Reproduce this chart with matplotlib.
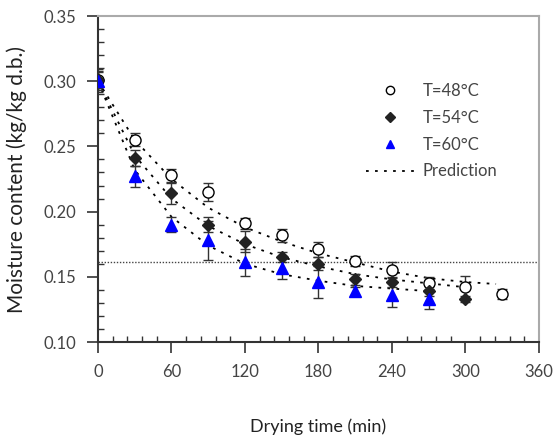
import matplotlib
matplotlib.use("Agg")
import matplotlib.pyplot as plt
from matplotlib.ticker import MultipleLocator

plt.rcParams['font.family'] = ['Lato', 'DejaVu Sans']

# measured data
t48 = [0, 30, 60, 90, 120, 150, 180, 210, 240, 270, 300, 330]
m48 = [0.301, 0.255, 0.228, 0.215, 0.191, 0.182, 0.171, 0.162, 0.155, 0.145, 0.142, 0.137]
e48 = [0.008, 0.005, 0.005, 0.007, 0.004, 0.005, 0.006, 0.004, 0.006, 0.005, 0.009, 0.004]

t54 = [0, 30, 60, 90, 120, 150, 180, 210, 240, 270, 300]
m54 = [0.301, 0.241, 0.214, 0.190, 0.177, 0.165, 0.160, 0.148, 0.146, 0.139, 0.133]
e54 = [0.006, 0.006, 0.008, 0.006, 0.008, 0.004, 0.005, 0.004, 0.004, 0.004, 0.002]

t60 = [0, 30, 60, 90, 120, 150, 180, 210, 240, 270]
m60 = [0.300, 0.227, 0.190, 0.178, 0.161, 0.157, 0.146, 0.139, 0.136, 0.133]
e60 = [0.008, 0.008, 0.006, 0.015, 0.010, 0.009, 0.012, 0.003, 0.009, 0.008]

# prediction curves
pt48 = [0, 30, 60, 90, 120, 150, 180, 210, 240, 270, 300, 325]
pm48 = [0.300, 0.255, 0.225, 0.203, 0.188, 0.177, 0.168, 0.161, 0.154, 0.149, 0.146, 0.1445]
pt54 = [0, 30, 60, 90, 120, 150, 180, 210, 240, 270, 300]
pm54 = [0.300, 0.243, 0.210, 0.189, 0.175, 0.165, 0.158, 0.152, 0.148, 0.145, 0.142]
pt60 = [0, 30, 60, 90, 120, 150, 180, 210, 240, 270]
pm60 = [0.300, 0.232, 0.196, 0.174, 0.160, 0.152, 0.147, 0.143, 0.141, 0.139]

ref_level = 0.161

xticks = [0, 60, 120, 180, 240, 300, 360]
yticks = [0.10, 0.15, 0.20, 0.25, 0.30, 0.35]

fig = plt.figure(figsize=(5.55, 4.42), dpi=100)
ax = fig.add_axes([0.1766, 0.2262, 0.7944, 0.7376])

dark = '#333333'
ax.axhline(ref_level, color='#444444', lw=1.0, ls=(0, (1, 1.2)), zorder=1)

pred_style = dict(color='black', lw=1.3, ls=(0, (1.5, 3.5)), zorder=2)
ax.plot(pt48, pm48, **pred_style)
ax.plot(pt54, pm54, **pred_style)
ax.plot(pt60, pm60, **pred_style)

eb = dict(ecolor=dark, elinewidth=1.0, capsize=3.5, capthick=1.0, ls='none', zorder=3)
ax.errorbar(t48, m48, yerr=e48, fmt='o', mfc='white', mec='black', mew=1.0, ms=8, **eb)
ax.errorbar(t54, m54, yerr=e54, fmt='D', mfc='#222222', mec='#222222', ms=6, **eb)
ax.errorbar(t60, m60, yerr=e60, fmt='^', mfc='blue', mec='blue', ms=8, **eb)

h1, = ax.plot([], [], 'o', mfc='white', mec='black', mew=1.0, ms=6, ls='none')
h2, = ax.plot([], [], 'D', mfc='#222222', mec='#222222', ms=5, ls='none')
h3, = ax.plot([], [], '^', mfc='blue', mec='blue', ms=6, ls='none')
h4, = ax.plot([], [], color='black', lw=1.3, ls=(0, (1.5, 3.5)))
leg = ax.legend([h1, h2, h3, h4], ['T=48°C', 'T=54°C', 'T=60°C', 'Prediction'],
                loc='upper left', bbox_to_anchor=(0.607, 0.795), frameon=False,
                borderpad=0, borderaxespad=0,
                prop={'size': 12}, labelspacing=0.65,
                handlelength=2.9, handletextpad=0.5,
                labelcolor='#444444')

ax.set_xlim(0, 360)
ax.set_ylim(0.10, 0.35)
ax.set_xticks(xticks)
ax.set_yticks(yticks)
ax.set_yticklabels([f"{v:.2f}" for v in yticks])
ax.xaxis.set_minor_locator(MultipleLocator(12))
ax.yaxis.set_minor_locator(MultipleLocator(0.01))

ax.tick_params(which='major', direction='out', length=8, width=1.2, color=dark,
               labelsize=12, labelcolor='#444444')
ax.tick_params(axis='x', which='major', pad=8)
ax.tick_params(axis='y', which='major', pad=8)
ax.tick_params(which='minor', direction='in', length=4, width=1.0, color=dark)

for s in ['left', 'bottom']:
    ax.spines[s].set_color(dark)
    ax.spines[s].set_linewidth(1.5)
for s in ['top', 'right']:
    ax.spines[s].set_color('#aaaaaa')
    ax.spines[s].set_linewidth(1.5)

ax.set_xlabel('Drying time (min)', fontsize=13, color='#222222')
ax.xaxis.set_label_coords(0.5, -0.235)
ax.set_ylabel('Moisture content (kg/kg d.b.)', fontsize=15, color='#222222')
ax.yaxis.set_label_coords(-0.16, 0.5)

fig.savefig('out.png', dpi=100)
